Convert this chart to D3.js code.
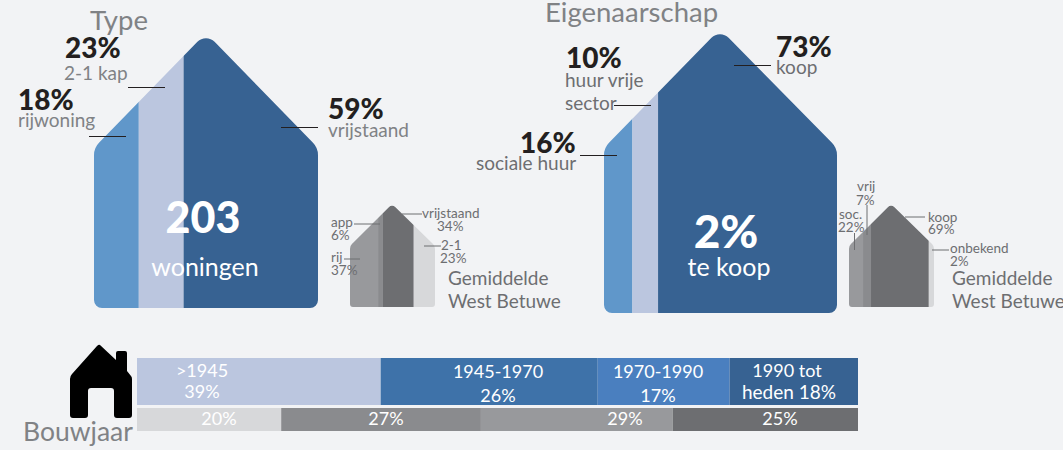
<!DOCTYPE html>
<html>
<head>
<meta charset="utf-8">
<script src="https://cdn.jsdelivr.net/npm/d3@7"></script>
<style>
    body { margin: 0; background: #f2f3f5; }
    svg { display: block; font-family: Lato, sans-serif; }
    .title { font-size: 27.5px; fill: #808285; }
    .title.small { font-size: 26.5px; }
    .big { font-size: 28px; font-weight: 900; fill: #231f20; }
    .sub { font-size: 19px; fill: #808285; }
    .sub.dark { fill: #6d6e71; }
    .tiny { font-size: 13.5px; fill: #6d6e71; }
    .avg { font-size: 19px; fill: #6d6e71; }
    .hero { font-size: 46px; font-weight: 900; fill: #fff; text-anchor: middle; }
    .hero.count { font-size: 43px; }
    .heroSub { font-size: 25px; fill: #fff; text-anchor: middle; }
    .bar { font-size: 18px; fill: #fff; text-anchor: middle; }
    .bar.wide { font-size: 19px; }
    .lead { stroke: #231f20; stroke-width: 1; }
    .lead.grey { stroke: #6d6e71; }
</style>
</head>
<body>
<svg id="chart" width="1063" height="450"></svg>
<script>
// printed percentages
let typeLabels = [18, 23, 59];
let ownerLabels = [16, 10, 73];
let avgTypeLabels = [37, 6, 34, 23];
let avgOwnerLabels = [22, 7, 69, 2];
let yearNames = [">1945", "1945-1970", "1970-1990", "1990 tot"];
let yearLabels = [39, 26, 17, 18];
let avgYearLabels = [20, 27, 29, 25];

// shares as they are actually drawn in the picture (they differ from the print)
let typeShares = [20, 20, 60];
let ownerShares = [12.2, 11, 76.8];
let avgTypeShares = [33, 5, 37, 25];
let avgOwnerShares = [16.5, 9.4, 68, 6.1];
let yearShares = [33.8, 30.1, 18.3, 17.8];
let avgYearShares = [20, 27.7, 26.6, 25.7];

let blues = ["#6097ca", "#bbc6df", "#376292"];
let yearBlues = ["#bbc6df", "#3e72a9", "#4a7fbf", "#376292"];
let avgHouseGreys = ["#98999c", "#8a8b8e", "#6d6e71", "#d7d8da"];
let yearGreys = ["#d7d8da", "#8a8b8e", "#98999c", "#6d6e71"];

const svg = d3.select("#chart");
svg.append("rect").attr("width", 1063).attr("height", 450).attr("fill", "#f2f3f5");

/**
 * Outline of a house with rounded corners
 */
function houseOutline(x0, x1, apexX, top, shoulder, bottom, r) {
    let p = d3.path();
    p.moveTo(x0 + r, bottom);
    p.arcTo(x0, bottom, x0, shoulder, r);
    p.arcTo(x0, shoulder, apexX, top, r * 2.2);
    p.arcTo(apexX, top, x1, shoulder, r * 1.5);
    p.arcTo(x1, shoulder, x1, bottom, r * 2.2);
    p.arcTo(x1, bottom, x0, bottom, r);
    p.closePath();
    return p.toString();
}

/**
 * Draws one house, cut in vertical slices
 */
function drawHouse(id, shares, colors, x0, x1, apexX, top, shoulder, bottom, r) {
    let x = d3.scaleLinear().domain([0, d3.sum(shares)]).range([x0, x1]);
    let ends = Array.from(d3.cumsum(shares));

    svg.append("clipPath").attr("id", id)
        .append("path")
        .attr("d", houseOutline(x0, x1, apexX, top, shoulder, bottom, r));

    svg.append("g").attr("clip-path", "url(#" + id + ")")
        .selectAll("rect")
        .data(shares)
        .enter()
        .append("rect")
        .attr("x", (d, i) => x(ends[i] - d))
        .attr("width", d => x(d) - x(0))
        .attr("y", top)
        .attr("height", bottom - top)
        .attr("fill", (d, i) => colors[i]);
}

/**
 * Draws one horizontal stacked bar
 */
function drawBar(shares, colors, y0, y1) {
    let x = d3.scaleLinear().domain([0, d3.sum(shares)]).range([137, 858]);
    let ends = Array.from(d3.cumsum(shares));
    svg.append("g").selectAll("rect")
        .data(shares)
        .enter()
        .append("rect")
        .attr("x", (d, i) => x(ends[i] - d))
        .attr("width", d => x(d) - x(0))
        .attr("y", y0)
        .attr("height", y1 - y0)
        .attr("fill", (d, i) => colors[i]);
}

function label(x, y, str, cls) {
    svg.append("text").attr("x", x).attr("y", y).attr("class", cls).text(str);
}

function lead(x1, y1, x2, y2, cls) {
    svg.append("line").attr("x1", x1).attr("y1", y1).attr("x2", x2).attr("y2", y2)
        .attr("class", cls || "lead");
}

drawHouse("h1", typeShares, blues, 94, 318, 206, 33, 148, 308, 8);
drawHouse("h2", ownerShares, blues, 604, 837, 720, 29, 148, 313, 8);
drawHouse("h3", avgTypeShares, avgHouseGreys, 350, 435, 392, 204, 246, 307, 3);
drawHouse("h4", avgOwnerShares, avgHouseGreys, 849, 934, 891, 204, 246, 307, 3);
drawBar(yearShares, yearBlues, 358, 405);
drawBar(avgYearShares, yearGreys, 408, 431);

// Type
label(90, 30, "Type", "title");
label(65, 58, typeLabels[1] + "%", "big");
label(64, 80, "2-1 kap", "sub");
label(18, 110, typeLabels[0] + "%", "big");
label(18, 127, "rijwoning", "sub");
label(328, 119, typeLabels[2] + "%", "big");
label(328, 137, "vrijstaand", "sub");
lead(128, 87.5, 165, 87.5);
lead(89, 136.5, 126, 136.5);
lead(281, 127.5, 318, 127.5);
label(203, 233, "203", "hero count");
label(205, 276, "woningen", "heroSub");

// Gemiddelde type
label(331, 227, "app", "tiny");
label(331, 240, avgTypeLabels[1] + "%", "tiny");
label(331, 262, "rij", "tiny");
label(331, 275, avgTypeLabels[0] + "%", "tiny");
label(422, 218, "vrijstaand", "tiny");
label(437, 231, avgTypeLabels[2] + "%", "tiny");
label(441, 250, "2-1", "tiny");
label(440, 263, avgTypeLabels[3] + "%", "tiny");
lead(354, 224, 380, 224, "lead grey");
lead(344, 259, 360, 259, "lead grey");
lead(402, 214, 422, 214, "lead grey");
lead(424, 246, 441, 246, "lead grey");
label(448, 285, "Gemiddelde", "avg");
label(448, 308, "West Betuwe", "avg");

// Eigenaarschap
label(545, 22, "Eigenaarschap", "title");
label(566, 68, ownerLabels[1] + "%", "big");
label(565, 87, "huur vrije", "sub dark");
label(565, 110, "sector", "sub dark");
lead(614, 105.5, 651, 105.5);
label(520, 153, ownerLabels[0] + "%", "big");
label(476, 170, "sociale huur", "sub dark");
lead(580, 155.5, 617, 155.5);
label(776, 57, ownerLabels[2] + "%", "big");
label(776, 74, "koop", "sub dark");
lead(734, 65.5, 771, 65.5);
label(726, 248, "2%", "hero");
label(729, 276, "te koop", "heroSub");

// Gemiddelde eigenaarschap
label(857, 191, "vrij", "tiny");
label(856, 205, avgOwnerLabels[1] + "%", "tiny");
label(839, 219, "soc.", "tiny");
label(838, 232, avgOwnerLabels[0] + "%", "tiny");
label(928, 222, "koop", "tiny");
label(928, 234, avgOwnerLabels[2] + "%", "tiny");
label(950, 253, "onbekend", "tiny");
label(950, 266, avgOwnerLabels[3] + "%", "tiny");
lead(867, 205, 867, 235, "lead grey");
lead(854.5, 233, 854.5, 250, "lead grey");
lead(905, 217, 925, 217, "lead grey");
lead(932, 250, 949, 250, "lead grey");
label(952, 285, "Gemiddelde", "avg");
label(952, 308, "West Betuwe", "avg");

// Bouwjaar
svg.append("path")
    .attr("d", "M100,345 L116,360 L116,353 Q116,351 118,351 L125,351 Q127,351 127,353 L127,371 L131,376 Q132,377 132,379 L132,415 Q132,418 129,418 L117,418 Q114,418 114,415 L114,391 Q114,388 111,388 L91,388 Q88,388 88,391 L88,415 Q88,418 85,418 L73,418 Q70,418 70,415 L70,379 Q70,376 72,374 L97,346 Q99,344 100,345 Z")
    .attr("fill", "#000");
label(23, 441, "Bouwjaar", "title small");

label(202, 377, yearNames[0], "bar");
label(202, 398, yearLabels[0] + "%", "bar");
label(498, 378, yearNames[1], "bar");
label(498, 402, yearLabels[1] + "%", "bar");
label(658, 378, yearNames[2], "bar");
label(658, 402, yearLabels[2] + "%", "bar");
label(787, 377, yearNames[3], "bar");
label(789, 399, "heden " + yearLabels[3] + "%", "bar wide");

label(219, 425, avgYearLabels[0] + "%", "bar");
label(386, 425, avgYearLabels[1] + "%", "bar");
label(625, 425, avgYearLabels[2] + "%", "bar");
label(780, 425, avgYearLabels[3] + "%", "bar");
</script>
</body>
</html>
